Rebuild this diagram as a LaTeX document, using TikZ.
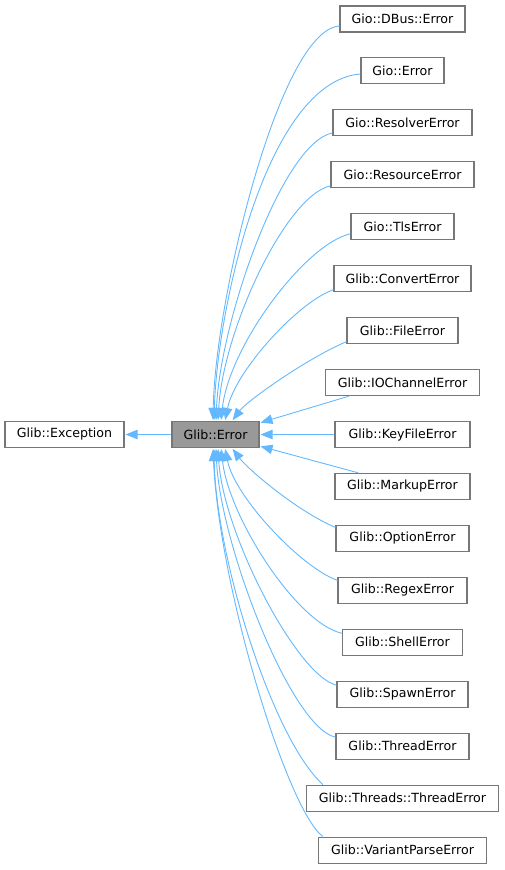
\documentclass[tikz,border=0pt]{standalone}
\usepackage{fontspec}
\setmainfont{DejaVu Sans}
\usetikzlibrary{arrows.meta,calc}
\definecolor{edgeblue}{HTML}{63B8FF}
\definecolor{boxline}{HTML}{777777}
\definecolor{boxfill}{HTML}{999999}
\tikzset{
  cls/.style={draw=boxline, line width=1.1pt, fill=white, minimum height=26pt, inner sep=0pt, anchor=center,
    font=\fontsize{12.6}{15}\selectfont, text=black},
  cur/.style={cls, fill=boxfill},
  inh/.style={draw=edgeblue, line width=0.9pt, -{Triangle[length=12pt,width=9.5pt]}, shorten >=1pt},
}
\begin{document}
\begin{tikzpicture}[x=1pt,y=-1pt]
\useasboundingbox (0,0) rectangle (504,870);
\node[cls, minimum width=119pt] (exc) at (64.5,434.5) {Glib::Exception};
\node[cur, minimum width=87pt] (err) at (215.5,434.5) {Glib::Error};
\foreach \i/\w/\t in {
  0/125/{Gio::DBus::Error},
  1/83/{Gio::Error},
  2/139/{Gio::ResolverError},
  3/143/{Gio::ResourceError},
  4/103/{Gio::TlsError},
  5/137/{Glib::ConvertError},
  6/111/{Glib::FileError},
  7/154/{Glib::IOChannelError},
  8/135/{Glib::KeyFileError},
  9/135/{Glib::MarkupError},
  10/133/{Glib::OptionError},
  11/129/{Glib::RegexError},
  12/120/{Glib::ShellError},
  13/131/{Glib::SpawnError},
  14/133/{Glib::ThreadError},
  15/192/{Glib::Threads::ThreadError},
  16/168/{Glib::VariantParseError}}
{
  \node[cls, minimum width=\w pt] (c\i) at (402.5,{19+51.94*\i}) {\t};
}
% to base class
\draw[inh] (err.west) -- (exc.east);
% upper group
\draw[inh] ($(c0.west)+(0,7)$) .. controls +(-60,4) and +(2,-121) .. ($(err.north)+(-2.5,0)$);
\draw[inh] ($(c1.west)+(0,3)$) .. controls +(-95,8) and +(3,-110) .. ($(err.north)+(-1.5,0)$);
\draw[inh] ($(c2.west)+(0,10)$) .. controls +(-50,10) and +(4,-100) .. ($(err.north)+(0.5,0)$);
\draw[inh] ($(c3.west)+(0,11)$) .. controls +(-45,10) and +(5,-90) .. ($(err.north)+(2.5,0)$);
\draw[inh] ($(c4.west)+(0,7)$) .. controls +(-45,10) and +(8,-75) .. ($(err.north)+(5.5,0)$);
\draw[inh] ($(c5.west)+(0,11)$) .. controls +(-35,12) and +(10,-50) .. ($(err.north)+(9.5,0)$);
\draw[inh] ($(c6.west)+(0,11)$) .. controls +(-40,17) and +(15,-20) .. ($(err.north)+(16.5,0)$);
% side group
\draw[inh] ($(c7.south west)+(24,0)$) -- ($(err.north east)+(0,2)$);
\draw[inh] (c8.west) -- (err.east);
\draw[inh] ($(c9.north west)+(24,0)$) -- ($(err.south east)+(0,-2)$);
% lower group
\draw[inh] ($(c10.west)+(0,-11)$) .. controls +(-40,-17) and +(15,20) .. ($(err.south)+(16.5,0)$);
\draw[inh] ($(c11.west)+(0,-10)$) .. controls +(-35,-12) and +(10,50) .. ($(err.south)+(9.5,0)$);
\draw[inh] ($(c12.west)+(0,-9)$) .. controls +(-45,-10) and +(8,70) .. ($(err.south)+(5.5,0)$);
\draw[inh] ($(c13.west)+(0,-9)$) .. controls +(-40,-10) and +(5,85) .. ($(err.south)+(2.5,0)$);
\draw[inh] ($(c14.west)+(0,-9)$) .. controls +(-45,-10) and +(4,95) .. ($(err.south)+(0.5,0)$);
\draw[inh] ($(c15.north west)+(17,0)$) .. controls +(-50,-45) and +(2,111) .. ($(err.south)+(-1.5,0)$);
\draw[inh] ($(c16.north west)+(5,0)$) .. controls +(-35,-25) and +(6,140) .. ($(err.south)+(-2.5,0)$);
\end{tikzpicture}
\end{document}
